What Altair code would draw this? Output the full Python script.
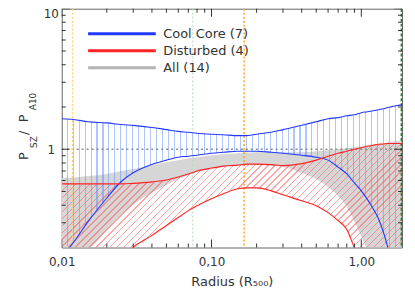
import altair as alt
import numpy as np
import pandas as pd

# ---------------- data ----------------
radius = [0.01, 0.012, 0.015, 0.02, 0.025, 0.03, 0.04, 0.05, 0.06, 0.07, 0.08,
          0.10, 0.12, 0.15, 0.17, 0.20, 0.25, 0.30, 0.40, 0.50, 0.60, 0.70,
          0.80, 0.90, 1.00, 1.10, 1.20, 1.30, 1.40, 1.50, 1.60, 1.70, 1.87]

cc_hi = [1.65, 1.63, 1.57, 1.54, 1.50, 1.48, 1.43, 1.38, 1.34, 1.32, 1.30,
         1.28, 1.27, 1.25, 1.25, 1.28, 1.32, 1.38, 1.48, 1.57, 1.65, 1.68,
         1.73, 1.76, 1.82, 1.85, 1.88, 1.91, 1.94, 1.98, 2.01, 2.04, 2.07]
cc_lo = [0.17, 0.218, 0.306, 0.45, 0.59, 0.68, 0.78, 0.837, 0.878, 0.893, 0.907,
         0.937, 0.952, 0.968, 0.968, 0.968, 0.952, 0.937, 0.907, 0.878, 0.837, 0.747,
         0.667, 0.576, 0.506, 0.438, 0.378, 0.322, 0.26, 0.201, 0.15, 0.12, 0.09]

dist_hi = [0.567, 0.567, 0.567, 0.567, 0.567, 0.572, 0.586, 0.605, 0.635, 0.667, 0.70,
           0.735, 0.759, 0.771, 0.784, 0.784, 0.778, 0.765, 0.79, 0.837, 0.893, 0.937,
           0.968, 1.0, 1.025, 1.05, 1.067, 1.085, 1.09, 1.10, 1.10, 1.10, 1.10]
dist_lo = [0.08, 0.09, 0.11, 0.14, 0.17, 0.201, 0.244, 0.287, 0.327, 0.366, 0.397,
           0.445, 0.482, 0.523, 0.531, 0.531, 0.506, 0.474, 0.43, 0.397, 0.354, 0.311,
           0.269, 0.198, 0.15, 0.12, 0.10, 0.08, 0.07, 0.06, 0.05, 0.05, 0.04]

all_hi = [0.625, 0.63, 0.645, 0.667, 0.70, 0.723, 0.771, 0.81, 0.837, 0.864, 0.878,
          0.907, 0.922, 0.937, 0.945, 0.952, 0.952, 0.952, 0.952, 0.968, 0.984, 1.0,
          1.016, 1.033, 1.05, 1.067, 1.085, 1.09, 1.10, 1.12, 1.13, 1.14, 1.15]
all_lo = [0.15, 0.17, 0.2, 0.269, 0.343, 0.403, 0.49, 0.558, 0.615, 0.656, 0.689,
          0.723, 0.747, 0.759, 0.765, 0.771, 0.765, 0.747, 0.678, 0.615, 0.54, 0.466,
          0.39, 0.306, 0.24, 0.2, 0.17, 0.15, 0.13, 0.12, 0.11, 0.10, 0.09]

groups = ["Cool Core (7)", "Disturbed (4)", "All (14)"]

orange_lines = [0.0118, 0.165]
green_dotted = [0.075]
green_dashed = [1.85]
unity = [1.0]

x_major = [0.01, 0.1, 1.0]
x_minor = [0.02, 0.03, 0.04, 0.05, 0.06, 0.07, 0.08, 0.09,
           0.2, 0.3, 0.4, 0.5, 0.6, 0.7, 0.8, 0.9]
y_major = [1, 10]
y_minor = [0.3, 0.4, 0.5, 0.6, 0.7, 0.8, 0.9, 2, 3, 4, 5, 6, 7, 8, 9]
x_label_values = [0.01, 0.1, 1.0]
y_label_values = [1, 10]

# ---------------- layout / style ----------------
W, H = 342, 240
XMIN, XMAX = 0.01, 1.87
YMIN, YMAX = 0.2, 10
FONT = "DejaVu Sans"
TXT = "#333333"
group_colors = ["#2238ff", "#ff2222", "#b4b4b4"]

xs = alt.Scale(type="log", domain=[XMIN, XMAX], nice=False)
ys = alt.Scale(type="log", domain=[YMIN, YMAX], nice=False)


def ypix(v):
    return H * (np.log10(YMAX) - np.log10(v)) / (np.log10(YMAX) - np.log10(YMIN))


def stripes(n, color, frac, x2, y2):
    clear = "rgba(255,255,255,0)"
    stops = []
    for k in range(n):
        a = k / n
        b = (k + 1 - frac) / n
        c = (k + 1) / n
        stops += [{"offset": a, "color": clear}, {"offset": b, "color": clear},
                  {"offset": b, "color": color}, {"offset": c, "color": color}]
    return {"gradient": "linear", "x1": 0, "y1": 0, "x2": x2, "y2": y2,
            "stops": stops}


band = pd.DataFrame({
    "r": radius,
    "cc_hi": cc_hi, "cc_lo": np.maximum(cc_lo, YMIN),
    "dist_hi": dist_hi, "dist_lo": np.maximum(dist_lo, YMIN),
    "all_hi": all_hi, "all_lo": np.maximum(all_lo, YMIN),
})

lines = pd.concat([
    pd.DataFrame({"r": radius, "v": cc_hi, "group": groups[0], "curve": "cc_hi"}),
    pd.DataFrame({"r": radius, "v": cc_lo, "group": groups[0], "curve": "cc_lo"}),
    pd.DataFrame({"r": radius, "v": dist_hi, "group": groups[1], "curve": "d_hi"}),
    pd.DataFrame({"r": radius, "v": dist_lo, "group": groups[1], "curve": "d_lo"}),
])

# gradients emulating hatch patterns
blue_grad = stripes(int(round(W / 6.0)), "rgba(90,140,255,0.5)", 0.18, 1, 0)
hb = H - ypix(max(dist_hi))
rr = hb / W
s = (1 + rr) / (1 + rr ** 2)
red_grad = stripes(int(round((W + hb) / 7.0)), "rgba(255,90,90,0.55)", 0.2, s, s * rr)

xaxis = alt.Axis(values=x_label_values, title="Radius (R₅₀₀)",
                 labelExpr="replace(format(datum.value, '.2f'), '.', ',')",
                 labelFont=FONT, labelFontSize=12, labelColor=TXT,
                 labelPadding=9, labelFlush=False, ticks=False, tickSize=0,
                 domain=False, grid=False, titleFont=FONT, titleFontSize=13,
                 titleFontWeight="normal", titleColor=TXT, titlePadding=8)
yaxis = alt.Axis(values=y_label_values, title=None, labelExpr="format(datum.value, 'd')",
                 labelFont=FONT, labelFontSize=12, labelColor=TXT,
                 labelAlign="center", labelPadding=11, labelFlush=True,
                 ticks=False, tickSize=0, domain=False, grid=False)


def X(field):
    return alt.X(field, scale=xs, axis=xaxis)


def Y(field):
    return alt.Y(field, scale=ys, axis=yaxis)


gray = alt.Chart(band).mark_area(color="#d6d6d6", interpolate="monotone", clip=True).encode(
    x=X("r:Q"), y=Y("all_hi:Q"), y2="all_lo:Q")
red_band = alt.Chart(band).mark_area(fill=red_grad, interpolate="monotone", clip=True).encode(
    x=X("r:Q"), y=Y("dist_hi:Q"), y2="dist_lo:Q")
blue_band = alt.Chart(band).mark_area(fill=blue_grad, interpolate="monotone", clip=True).encode(
    x=X("r:Q"), y=Y("cc_hi:Q"), y2="cc_lo:Q")

hline = alt.Chart(pd.DataFrame({"y": unity})).mark_rule(
    color="#8c8c8c", strokeDash=[2, 3], strokeWidth=1.5).encode(y=Y("y:Q"))


def vrule(vals, color, dash, width):
    return alt.Chart(pd.DataFrame({"x": vals})).mark_rule(
        color=color, strokeDash=dash, strokeWidth=width).encode(x=X("x:Q"))


v1 = vrule(orange_lines[:1], "#ffcc77", [2, 2], 1.2)
v2 = vrule(orange_lines[1:], "#ffa31a", [2, 2], 1.5)
v3 = vrule(green_dotted, "#b8d8b8", [2, 2], 1)
v4 = vrule(green_dashed, "#1a8a1a", [3, 2], 1.5)

curves = alt.Chart(lines).mark_line(strokeWidth=1.1, interpolate="monotone", clip=True).encode(
    x=X("r:Q"), y=Y("v:Q"),
    color=alt.Color("group:N", scale=alt.Scale(domain=groups, range=group_colors),
                    legend=alt.Legend(orient="none", legendX=25, legendY=17, title=None,
                                      symbolType="stroke", symbolSize=68 * 68,
                                      symbolStrokeWidth=3, clipHeight=16.5,
                                      labelFont=FONT, labelFontSize=13, labelColor=TXT,
                                      labelOffset=6, padding=0, rowPadding=0)),
    detail="curve:N",
)


def xticks(vals, size, at):
    return alt.Chart(pd.DataFrame({"v": vals})).mark_tick(
        orient="vertical", size=size, thickness=1, color="#333333", opacity=1, clip=True).encode(
        x=X("v:Q"),
        y=alt.YDatum(datum=at, type="quantitative", scale=ys, axis=yaxis))


def yticks(vals, size, at):
    return alt.Chart(pd.DataFrame({"v": vals})).mark_tick(
        orient="horizontal", size=size, thickness=1, color="#333333", opacity=1, clip=True).encode(
        y=Y("v:Q"),
        x=alt.XDatum(datum=at, type="quantitative", scale=xs, axis=xaxis))


ticks = [xticks(x_minor, 8, YMIN), xticks(x_major, 16, YMIN),
         xticks(x_minor, 8, YMAX), xticks(x_major, 16, YMAX),
         yticks(y_minor, 8, XMIN), yticks(y_major, 16, XMIN),
         yticks(y_minor, 8, XMAX), yticks(y_major, 16, XMAX)]


def piece(text, x, y, size):
    return alt.Chart(pd.DataFrame({"t": [text]})).mark_text(
        angle=270, align="left", baseline="alphabetic", font=FONT,
        fontSize=size, color=TXT).encode(
        x=alt.value(x), y=alt.value(y), text="t:N")


ytitle = [piece("P", -34, 152, 13), piece("SZ", -25, 140, 9),
          piece("/", -34, 127, 13), piece("P", -34, 114, 13),
          piece("A10", -26, 102, 9)]

chart = alt.layer(gray, red_band, blue_band, hline, v1, v2, v3, v4, curves,
                  *ticks, *ytitle).properties(
    width=W, height=H,
    autosize=alt.AutoSizeParams(type="none"),
    padding={"left": 54, "top": 0, "right": 5, "bottom": 44},
).configure_view(stroke="#666666", strokeWidth=1)

chart.save("out.html", embed_options={"renderer": "svg", "actions": False})
